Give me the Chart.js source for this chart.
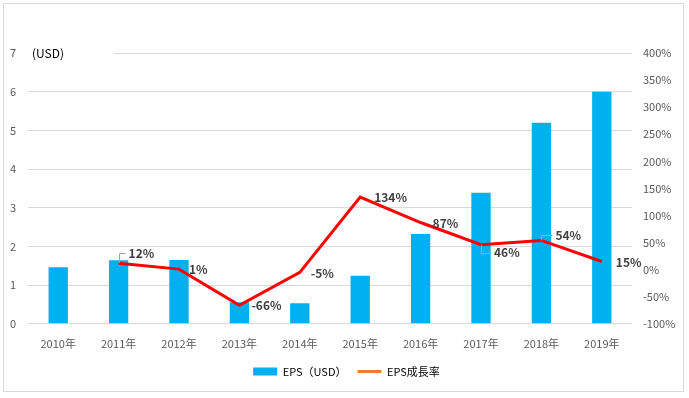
<!DOCTYPE html>
<html>
<head>
<meta charset="utf-8">
<script src="https://cdn.jsdelivr.net/npm/chart.js@4.4.1/dist/chart.umd.min.js"></script>
<style>
  html, body { margin: 0; padding: 0; background: #fff; }
  #c { position: absolute; left: 0; top: 0; }
  #frame { position: absolute; left: 3px; top: 3px; width: 681px; height: 389px; border: 1px solid #d9d9d9; box-sizing: border-box; pointer-events: none; }
</style>
</head>
<body>
<canvas id="c" width="689" height="398"></canvas>
<div id="frame"></div>
<script>
var years = ["2010年", "2011年", "2012年", "2013年", "2014年", "2015年", "2016年", "2017年", "2018年", "2019年"];
var eps = [1.46, 1.64, 1.65, 0.56, 0.53, 1.24, 2.32, 3.39, 5.2, 6.0];
var growth = [null, 12, 1, -66, -5, 134, 87, 46, 54, 15];
var leftTicks = [0, 1, 2, 3, 4, 5, 6, 7];

var tickFont = { size: 11, family: "'Liberation Sans Narrow', 'Noto Sans CJK JP', sans-serif" };

// label placement per point: [dx, dy, leader]
var labelPos = [null, [10, -10, true], [10, 0], [12, 0], [11, 1], [14, 0], [12, 1], [13, 8, true], [14, -5, true], [14, 1]];

var labelPlugin = {
    id: "lineLabels",
    afterDatasetsDraw: function (chart) {
        var ctx = chart.ctx;
        var meta = chart.getDatasetMeta(0);
        ctx.save();
        ctx.font = "bold 12px 'Noto Sans CJK JP', 'Noto Sans', sans-serif";
        ctx.textBaseline = "middle";
        ctx.textAlign = "left";
        meta.data.forEach(function (pt, i) {
            var v = growth[i];
            if (v === null || !labelPos[i]) return;
            var p = labelPos[i];
            var x = pt.x + p[0], y = pt.y + p[1];
            if (p[2]) {
                ctx.strokeStyle = "#a6a6a6";
                ctx.lineWidth = 1;
                ctx.beginPath();
                ctx.moveTo(Math.round(pt.x) + 0.5, pt.y);
                ctx.lineTo(Math.round(pt.x) + 0.5, Math.round(y) + 0.5);
                ctx.lineTo(x - 3, Math.round(y) + 0.5);
                ctx.stroke();
            }
            ctx.fillStyle = "#404040";
            ctx.fillText(v + "%", x, y);
        });
        // (USD) unit text
        var ya = chart.scales.y;
        var top = ya.getPixelForValue(7);
        ctx.fillStyle = "#fff";
        ctx.fillRect(chart.chartArea.left, top - 9, 86, 18);
        ctx.fillStyle = "#000";
        ctx.font = "12px 'Noto Sans CJK JP', 'Noto Sans', sans-serif";
        ctx.fillText("(USD)", chart.chartArea.left + 4, top);
        ctx.restore();
    }
};

new Chart(document.getElementById("c"), {
    data: {
        labels: years,
        datasets: [
            {
                type: "line",
                label: "EPS成長率",
                data: growth,
                yAxisID: "y1",
                borderColor: "#ff0000",
                backgroundColor: "#ff0000",
                borderWidth: 3,
                pointRadius: 0,
                tension: 0,
                order: 0,
            },
            {
                type: "bar",
                label: "EPS（USD）",
                data: eps,
                yAxisID: "y",
                backgroundColor: "#00b0f0",
                categoryPercentage: 1,
                barPercentage: 0.32,
                order: 1,
            },
        ],
    },
    options: {
        responsive: false,
        animation: false,
        layout: { padding: { left: 4, right: 0, top: 53, bottom: 11 } },
        scales: {
            x: {
                grid: { display: false },
                border: { display: false },
                ticks: { color: "#595959", font: tickFont, padding: 5 },
            },
            y: {
                position: "left",
                min: 0,
                max: 7,
                afterBuildTicks: function (axis) {
                    axis.ticks = leftTicks.map((v) => ({ value: v }));
                },
                afterFit: function (axis) {
                    axis.width = 24;
                },
                grid: { color: "#d9d9d9", drawTicks: false },
                border: { display: false },
                ticks: { color: "#595959", font: tickFont, padding: 12 },
            },
            y1: {
                position: "right",
                min: -100,
                max: 400,
                afterFit: function (axis) {
                    axis.width = 57;
                },
                ticks: {
                    stepSize: 50,
                    color: "#595959",
                    font: tickFont,
                    padding: 11,
                    callback: (v) => v + "%",
                },
                grid: { display: false, drawTicks: false },
                border: { display: false },
            },
        },
        plugins: {
            legend: {
                position: "bottom",
                labels: {
                    color: "#595959",
                    font: tickFont,
                    usePointStyle: true,
                    pointStyleWidth: 24,
                    boxHeight: 8,
                    padding: 11,
                    generateLabels: function (chart) {
                        return [
                            { text: "EPS（USD）", pointStyle: "rect", fillStyle: "#00b0f0", strokeStyle: "#00b0f0", lineWidth: 0, datasetIndex: 1 },
                            { text: "EPS成長率", pointStyle: "line", fillStyle: "#ed7d31", strokeStyle: "#ed7d31", lineWidth: 3, datasetIndex: 0 },
                        ];
                    },
                },
            },
            tooltip: { enabled: false },
        },
    },
    plugins: [labelPlugin],
});
</script>
</body>
</html>
